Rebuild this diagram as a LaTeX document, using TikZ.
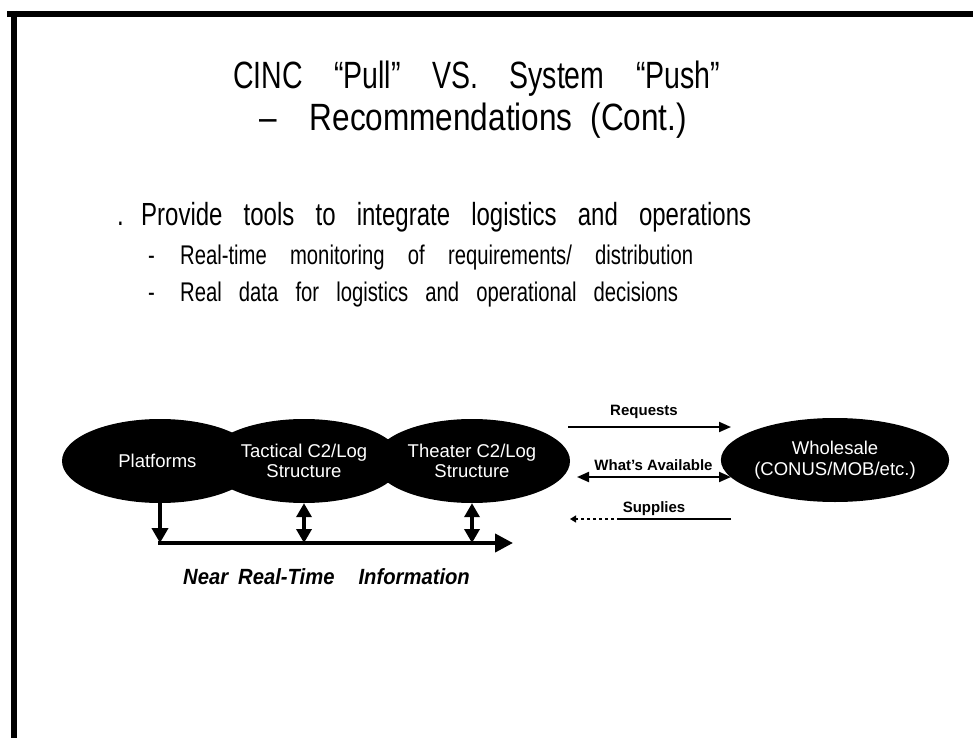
\documentclass[tikz,border=0pt]{standalone}
\usepackage{fontspec}
\setmainfont{Liberation Sans}
\newfontfamily\narrowfont[FakeStretch=0.75]{Liberation Sans}
\newfontfamily\midfont[FakeStretch=0.83]{Liberation Sans}
\newfontfamily\captionfont[FakeStretch=0.92]{Liberation Sans}
\usepackage{tikz}
\usetikzlibrary{arrows.meta,shapes.geometric}

\begin{document}
\begin{tikzpicture}[ x=1pt, y=-1pt,
	blob/.style={ ellipse, fill=black, text=white, minimum width=196pt, minimum height=84pt, inner sep=0pt, align=center, font=\fontsize{18.5}{20.5}\selectfont },
	headline/.style={ anchor=base, inner sep=0pt, font=\narrowfont\fontsize{38}{44}\selectfont },
	point/.style={ anchor=base west, inner sep=0pt, font=\narrowfont\fontsize{32}{38}\selectfont },
	subpoint/.style={ anchor=base west, inner sep=0pt, font=\narrowfont\fontsize{27}{32}\selectfont },
	flowlabel/.style={ anchor=base, inner sep=0pt, font=\bfseries\fontsize{15}{17}\selectfont },
	stem/.style={ line width=4pt },
	link/.style={ line width=2pt }
]
	\useasboundingbox (0,0) rectangle (973,738);
	% frame
	\draw [ line width=6pt ] (7,14) -- (973,14);
	\draw [ line width=6pt ] (14,11) -- (14,738);

	% title and bullets
	\node [ headline ] (title1) at (476.5,89)
		{ \makebox[487pt][s]{CINC “Pull” VS. System “Push”} };
	\node [ headline, anchor=base west, font=\midfont\fontsize{38}{44}\selectfont ] (title2) at (259,131)
		{ –\hspace{33pt}Recommendations\hspace{18pt}(Cont.) };
	\node [ point ] (dot) at (117,225) { . };
	\node [ point ] (item) at (141,225)
		{ \makebox[610pt][s]{Provide tools to integrate logistics and operations} };
	\node [ subpoint ] (dash1) at (148,264) { - };
	\node [ subpoint ] (sub1) at (180,264)
		{ \makebox[513pt][s]{Real-time monitoring of requirements/ distribution} };
	\node [ subpoint ] (dash2) at (148,301) { - };
	\node [ subpoint ] (sub2) at (180,301)
		{ \makebox[498pt][s]{Real data for logistics and operational decisions} };

	% ellipses
	\node [ blob ] (plat) at (160,461) { Platforms };
	\node [ blob ] (tact) at (304,461) { Tactical C2/Log \\ Structure };
	\node [ blob ] (theat) at (472,461) { Theater C2/Log \\ Structure };
	\node [ blob ] (whole) at (835,460) { Wholesale \\ (CONUS/MOB/etc.) };

	% information rail
	\coordinate (railL) at (158,543);
	\coordinate (railR) at (513,543);
	\draw [ stem, -{Triangle[width=18pt,length=18pt]} ] (railL) to (railR);
	\draw [ stem, -{Triangle[width=16pt,length=15pt]} ] (plat.south) to (plat.south |- railL);
	\draw [ stem, {Triangle[width=15pt,length=14pt]}-{Triangle[width=15pt,length=14pt]} ] (tact.south) to (tact.south |- railL);
	\draw [ stem, {Triangle[width=15pt,length=14pt]}-{Triangle[width=15pt,length=14pt]} ] (theat.south) to (theat.south |- railL);
	\node [ anchor=base west, inner sep=0pt, font=\captionfont\bfseries\itshape\fontsize{22}{26}\selectfont ] (near) at (183,584)
		{ Near\hspace{10pt}Real-Time\hspace{24pt}Information };

	% flows to wholesale
	\coordinate (reqL) at (568,427);
	\coordinate (reqR) at (731,427);
	\coordinate (avL) at (577,477);
	\coordinate (avR) at (731,477);
	\coordinate (supL) at (570,519);
	\coordinate (supM) at (620,519);
	\coordinate (supR) at (731,519);
	\draw [ link, -{Triangle[width=10pt,length=12pt]} ] (reqL) to (reqR);
	\draw [ link, {Triangle[width=10pt,length=12pt]}-{Triangle[width=10pt,length=12pt]} ] (avL) to (avR);
	\draw [ link ] (supR) to (supM);
	\draw [ line width=1.2pt, dashed, -{Triangle[width=7pt,length=6pt]} ] (supM) to (supL);
	\node [ flowlabel ] (req) at (644,415) { Requests };
	\node [ flowlabel ] (avail) at (653.5,470) { What's Available };
	\node [ flowlabel ] (sup) at (654,512) { Supplies };
\end{tikzpicture}
\end{document}
